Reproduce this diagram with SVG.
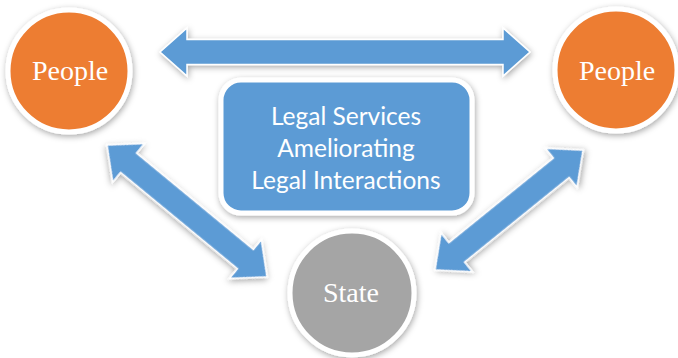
<svg xmlns="http://www.w3.org/2000/svg" width="678" height="358" viewBox="0 0 678 358">
  <defs>
    <filter id="shadow" x="-20%" y="-20%" width="140%" height="140%">
      <feDropShadow dx="1" dy="2" stdDeviation="3" flood-color="#000" flood-opacity="0.35"/>
    </filter>
  </defs>
  <style>
    .arrow { fill: #5B9BD5; stroke: #fff; stroke-width: 1.5; stroke-linejoin: miter; filter: url(#shadow); }
    .circle { stroke: #fff; stroke-width: 5; filter: url(#shadow); }
    .people { fill: #ED7D31; }
    .state { fill: #A5A5A5; }
    .box { fill: #5B9BD5; stroke: #fff; stroke-width: 5; filter: url(#shadow); }
    .serif { font-family: "Liberation Serif", "DejaVu Serif", serif; font-size: 28px; fill: #fff; text-anchor: middle; }
    .sans { font-family: Lato, "Open Sans", sans-serif; font-size: 24.5px; fill: #fff; text-anchor: middle; }
  </style>

  <!-- double-headed connectors -->
  <g id="connectors">
    <!-- People (left) to People (right) -->
    <path class="arrow" transform="translate(160,52)" d="M0,0 L27,-24 L27,-12.5 L343,-12.5 L343,-24 L370,0 L343,24 L343,12.5 L27,12.5 L27,24 Z"/>
    <!-- People (left) to State -->
    <path class="arrow" transform="translate(107,145) rotate(39.5)" d="M0,0 L28,-25 L28,-12.5 L179.4,-12.5 L179.4,-25 L207.4,0 L179.4,25 L179.4,12.5 L28,12.5 L28,25 Z"/>
    <!-- State to People (right) -->
    <path class="arrow" transform="translate(435,270) rotate(-39)" d="M0,0 L28,-25 L28,-12.5 L162.5,-12.5 L162.5,-25 L190.5,0 L162.5,25 L162.5,12.5 L28,12.5 L28,25 Z"/>
  </g>

  <g id="people-left">
    <circle class="circle people" cx="69" cy="71" r="61"/>
    <text class="serif" x="70" y="80">People</text>
  </g>

  <g id="people-right">
    <circle class="circle people" cx="616" cy="70" r="61"/>
    <text class="serif" x="617" y="80">People</text>
  </g>

  <g id="state">
    <circle class="circle state" cx="352" cy="293" r="62"/>
    <text class="serif" x="351" y="302">State</text>
  </g>

  <g id="legal-services">
    <rect class="box" x="221" y="80" width="251" height="133" rx="20" ry="20"/>
    <text class="sans" x="346" y="125">Legal Services</text>
    <text class="sans" x="346" y="157">Ameliorating</text>
    <text class="sans" x="346" y="189">Legal Interactions</text>
  </g>
</svg>
